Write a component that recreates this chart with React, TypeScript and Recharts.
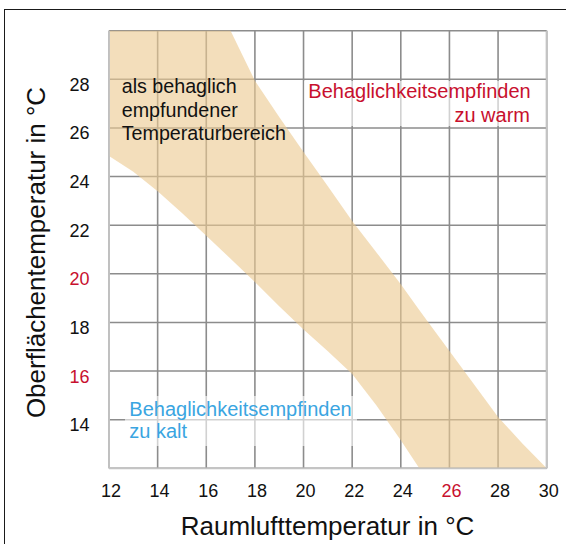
import React from 'react';
import { ComposedChart, Area, XAxis, YAxis, CartesianGrid, ReferenceLine } from 'recharts';

// Room air temperature (x) sample points along the comfort band
const roomTemp = [12, 13, 14, 15, 16, 17, 18, 19, 20, 21, 22, 23, 24, 24.76, 25, 26, 27, 28, 29, 30];
// Lower edge of the comfort band (surface temperature)
const surfaceLower = [24.85, 24.2, 23.4, 22.5, 21.57, 20.62, 19.66, 18.67, 17.71, 16.81, 15.88, 14.58, 13.15, 12, 12, 12, 12, 12, 12, 12];
// Upper edge of the comfort band (surface temperature)
const surfaceUpper = [30, 30, 30, 30, 30, 30, 27.94, 26.45, 25.01, 23.6, 22.17, 20.88, 19.57, 18.51, 18.18, 16.82, 15.47, 14.11, 13.02, 12];

const xTicks = [12, 14, 16, 18, 20, 22, 24, 26, 28, 30];
const yTicks = [12, 14, 16, 18, 20, 22, 24, 26, 28, 30];
const yHiddenTicks = [12, 30];
const xRedTicks = [26];
const yRedTicks = [20, 16];

const xTitle = 'Raumlufttemperatur in °C';
const yTitle = 'Oberflächentemperatur in °C';
const comfortLines = ['als behaglich', 'empfundener', 'Temperaturbereich'];
const warmLines = ['Behaglichkeitsempfinden', 'zu warm'];
const coldLines = ['Behaglichkeitsempfinden', 'zu kalt'];

const FONT = '"Liberation Sans", Arial, Helvetica, sans-serif';
const RED = '#c8102e';
const BLUE = '#3aa5e1';
const GRID = '#8c8c8c';

const data = roomTemp.map((x, i) => ({ x, lo: surfaceLower[i], hi: surfaceUpper[i] }));

const XTick = (props: any) => {
  const { x, y, payload } = props;
  const v = payload.value;
  return (
    <text x={x + 2} y={y + 28.2} textAnchor="middle" fontSize={18} fontFamily={FONT}
      fill={xRedTicks.includes(v) ? RED : '#111'}>
      {v}
    </text>
  );
};

const YTick = (props: any) => {
  const { x, y, payload } = props;
  const v = payload.value;
  if (yHiddenTicks.includes(v)) return <g />;
  return (
    <text x={x} y={y + 11.5} textAnchor="end" fontSize={18} fontFamily={FONT}
      fill={yRedTicks.includes(v) ? RED : '#111'}>
      {v}
    </text>
  );
};

export default function App() {
  return (
    <div style={{ position: 'absolute', left: 0, top: 0, width: 566, height: 544, background: '#fff' }}>
      <div style={{ position: 'absolute', left: 4.3, top: 9, width: 561.7, height: 535, borderLeft: '1.4px solid #1a1a1a', borderTop: '1.4px solid #1a1a1a', boxSizing: 'border-box' }} />
      <div style={{ position: 'absolute', left: 0, top: 0 }}>
        <ComposedChart width={566} height={544} data={data}
          margin={{ top: 30.7, right: 19.3, bottom: 0, left: 0 }}>
          <CartesianGrid stroke={GRID} strokeWidth={1.6} />
          <XAxis dataKey="x" type="number" domain={[12, 30]} ticks={xTicks} interval={0}
            height={75.7} axisLine={false} tickLine={false} tickSize={0} tickMargin={0} tick={<XTick />} />
          <YAxis type="number" domain={[12, 30]} ticks={yTicks} interval={0}
            width={109} axisLine={false} tickLine={false} tickSize={0} tickMargin={19.5} tick={<YTick />} />
          <ReferenceLine x={12} stroke="#c4c4c4" strokeWidth={1.8} />
          <ReferenceLine x={30} stroke="#c4c4c4" strokeWidth={1.8} />
          <ReferenceLine y={12} stroke="#c4c4c4" strokeWidth={1.8} />
          <Area dataKey={(d: any) => [d.lo, d.hi]} type="linear" fill="#ecc992" fillOpacity={0.62}
            stroke="none" dot={false} activeDot={false} isAnimationActive={false} />
        </ComposedChart>
      </div>
      <svg width={566} height={544} style={{ position: 'absolute', left: 0, top: 0, pointerEvents: 'none' }}>
        <rect x={304} y={81} width={234} height={45} fill="#fff" fillOpacity={0.6} />
        <rect x={125} y={396} width={232} height={50} fill="#fff" fillOpacity={0.6} />
        <g fontFamily={FONT}>
          <text x={121.7} y={92.7} fill="#111" fontSize={19.7}>{comfortLines[0]}</text>
          <text x={121.7} y={116.7} fill="#111" fontSize={19.7}>{comfortLines[1]}</text>
          <text x={121.7} y={140.4} fill="#111" fontSize={19.7}>{comfortLines[2]}</text>
          <text x={308.3} y={98.3} fill={RED} fontSize={20}>{warmLines[0]}</text>
          <text x={530} y={122.3} fill={RED} fontSize={20} textAnchor="end">{warmLines[1]}</text>
          <text x={129.3} y={416} fill={BLUE} fontSize={20}>{coldLines[0]}</text>
          <text x={129.3} y={438.3} fill={BLUE} fontSize={20}>{coldLines[1]}</text>
        </g>
        <text x={327.5} y={535} textAnchor="middle" fontFamily={FONT} fontSize={26} fill="#111">{xTitle}</text>
        <text x={45} y={252.5} textAnchor="middle" fontFamily={FONT} fontSize={26} fill="#111"
          transform="rotate(-90, 45, 252.5)">{yTitle}</text>
      </svg>
    </div>
  );
}
